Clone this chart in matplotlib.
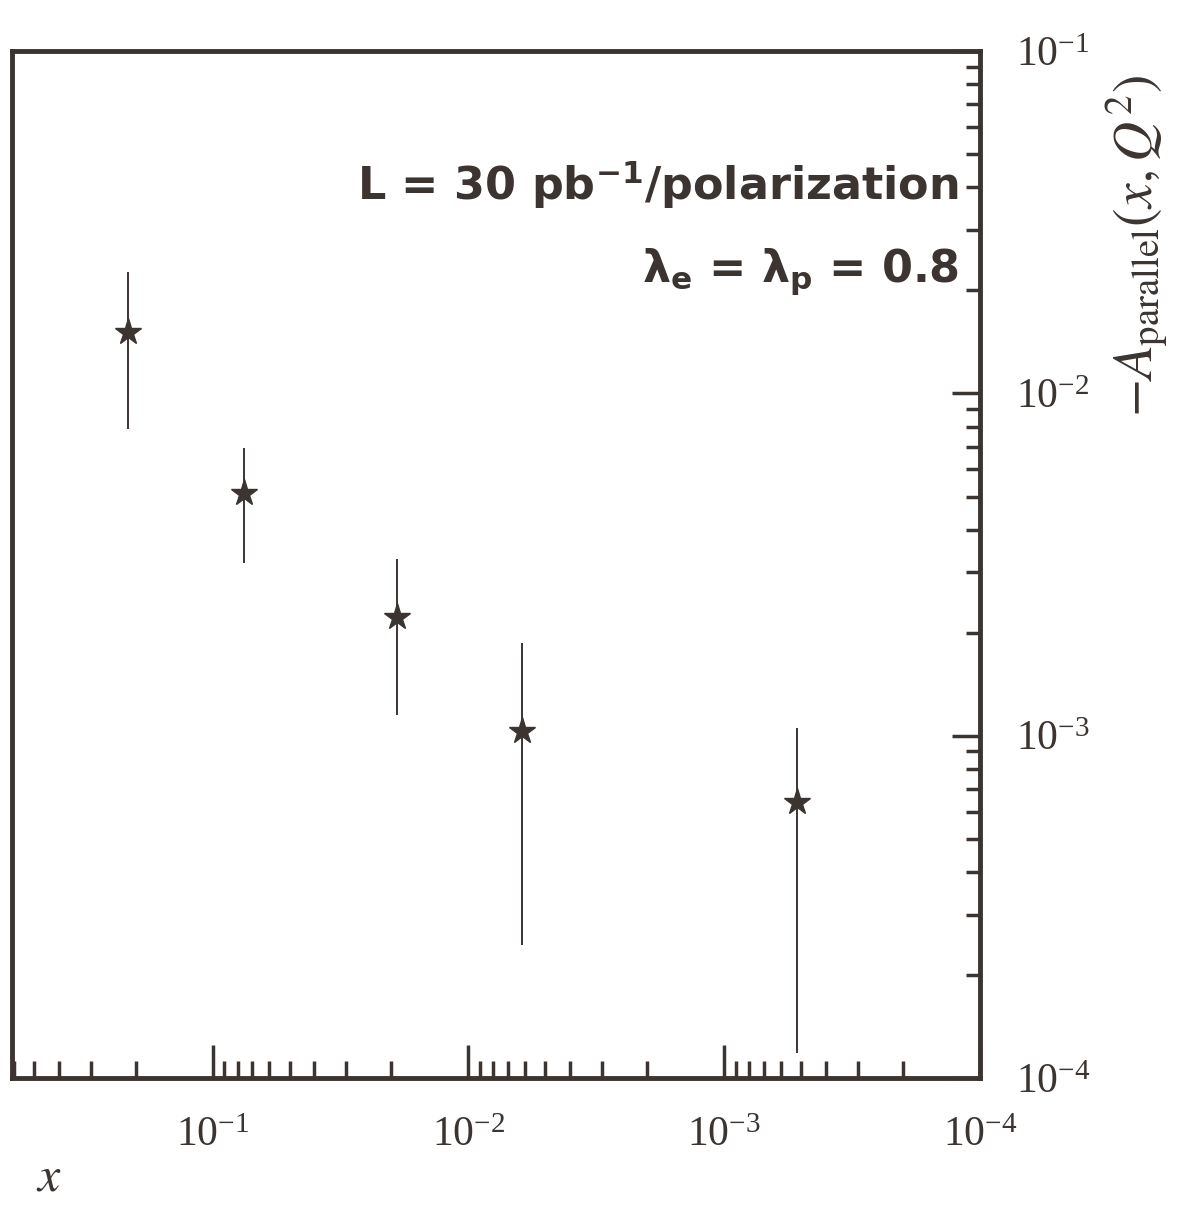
import matplotlib
matplotlib.use("Agg")
from matplotlib import pyplot as plt
from matplotlib.ticker import LogLocator, NullFormatter

# data
x_vals = [0.214, 0.0757, 0.019, 0.0062, 0.00052]
y_vals = [0.0151, 0.00513, 0.00223, 0.00103, 0.00064]
y_upper = [0.0226, 0.00695, 0.00328, 0.00187, 0.00105]
y_lower = [0.00788, 0.00319, 0.00115, 0.000244, 0.000118]

ink = "#3b3430"

plt.rcParams["font.family"] = ["Liberation Serif", "DejaVu Serif"]
plt.rcParams["mathtext.fontset"] = "stix"

fig = plt.figure(figsize=(11.92, 12.15), dpi=100)
ax = fig.add_axes([0.010, 0.1128, 0.812, 0.845])

err_lo = [v - lo for v, lo in zip(y_vals, y_lower)]
err_hi = [hi - v for v, hi in zip(y_vals, y_upper)]
ax.errorbar(x_vals, y_vals, yerr=[err_lo, err_hi], fmt="*", color=ink,
            ms=20, mfc=ink, mec=ink, elinewidth=1.4, capsize=0)

ax.set_xscale("log")
ax.set_yscale("log")
ax.set_xlim(0.61, 1e-4)
ax.set_ylim(1e-4, 1e-1)

# y axis on the right, ticks pointing in
ax.yaxis.tick_right()
ax.yaxis.set_label_position("right")
ax.xaxis.set_minor_locator(LogLocator(base=10, subs=range(2, 10)))
ax.yaxis.set_minor_locator(LogLocator(base=10, subs=range(2, 10)))
ax.xaxis.set_minor_formatter(NullFormatter())
ax.yaxis.set_minor_formatter(NullFormatter())
ax.tick_params(which="both", direction="in", color=ink, width=2.5,
               labelcolor=ink, labelsize=30)
ax.tick_params(axis="x", which="major", length=24, pad=28)
ax.tick_params(axis="x", which="minor", length=12)
ax.tick_params(axis="y", which="major", length=20, pad=26)
ax.tick_params(axis="y", which="minor", length=10)
for s in ax.spines.values():
    s.set_linewidth(3.5)
    s.set_color(ink)

ax.set_ylabel(r"$-A_{\mathrm{parallel}}(x,Q^2)$", fontsize=40, color=ink,
              rotation=90)
ax.yaxis.set_label_coords(1.128, 0.81)
fig.text(0.03, 0.02, r"$x$", fontsize=36, color=ink)

# annotations
ax.text(0.978, 0.87, r"L = 30 pb$^{\mathbf{-1}}$/polarization",
        transform=ax.transAxes, ha="right", va="center", fontsize=32,
        fontweight="bold", family=["DejaVu Sans"], math_fontfamily="dejavusans",
        color=ink)
ax.text(0.978, 0.785, r"$\mathbf{\lambda_e}$ = $\mathbf{\lambda_p}$ = 0.8",
        transform=ax.transAxes, ha="right", va="center", fontsize=32,
        fontweight="bold", family=["DejaVu Sans"], math_fontfamily="dejavusans",
        color=ink)

plt.savefig("out.png", dpi=100, facecolor="white")
